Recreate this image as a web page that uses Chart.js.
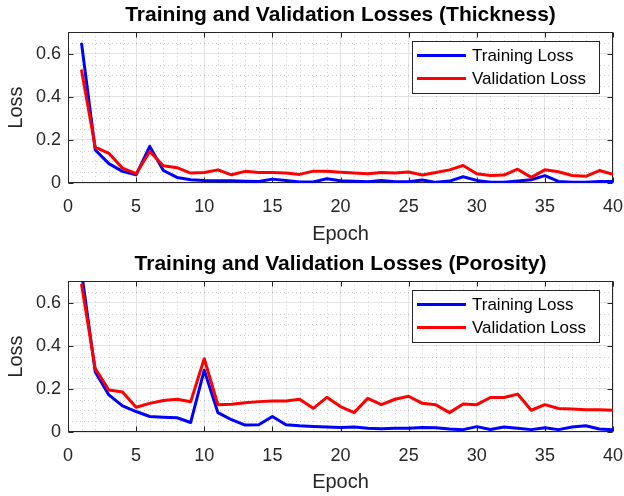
<!DOCTYPE html>
<html>
<head>
<meta charset="utf-8">
<script src="https://cdn.jsdelivr.net/npm/chart.js@4.4.1/dist/chart.umd.min.js"></script>
<style>
  html, body { margin: 0; padding: 0; background: #fff; }
  #wrap { position: relative; width: 624px; height: 496px; }
  #wrap canvas { position: absolute; left: 0; }
</style>
</head>
<body>
<div id="wrap">
  <canvas id="thickness" width="624" height="248" style="top:0"></canvas>
  <canvas id="porosity" width="624" height="247" style="top:249px"></canvas>
</div>
<script>
const epochs = [1, 2, 3, 4, 5, 6, 7, 8, 9, 10, 11, 12, 13, 14, 15, 16, 17, 18, 19, 20,
                21, 22, 23, 24, 25, 26, 27, 28, 29, 30, 31, 32, 33, 34, 35, 36, 37, 38, 39, 40];

const thicknessTrain = [0.645, 0.153, 0.090, 0.054, 0.038, 0.170, 0.058, 0.026, 0.015, 0.012,
                        0.011, 0.010, 0.008, 0.007, 0.018, 0.012, 0.005, 0.005, 0.020, 0.010,
                        0.008, 0.006, 0.012, 0.006, 0.006, 0.014, 0.003, 0.009, 0.029, 0.012,
                        0.003, 0.003, 0.009, 0.015, 0.034, 0.007, 0.004, 0.004, 0.007, 0.007];
const thicknessVal = [0.521, 0.166, 0.138, 0.069, 0.043, 0.146, 0.080, 0.071, 0.046, 0.049,
                      0.061, 0.038, 0.054, 0.049, 0.049, 0.046, 0.040, 0.055, 0.054, 0.050,
                      0.046, 0.043, 0.049, 0.046, 0.051, 0.037, 0.049, 0.061, 0.081, 0.043,
                      0.035, 0.037, 0.064, 0.026, 0.061, 0.052, 0.035, 0.031, 0.058, 0.040];

const porosityTrain = [0.740, 0.279, 0.172, 0.121, 0.095, 0.072, 0.069, 0.066, 0.044, 0.287,
                       0.090, 0.057, 0.032, 0.034, 0.072, 0.034, 0.029, 0.026, 0.023, 0.021,
                       0.023, 0.017, 0.015, 0.017, 0.017, 0.021, 0.020, 0.014, 0.011, 0.025,
                       0.012, 0.023, 0.017, 0.011, 0.020, 0.011, 0.023, 0.029, 0.014, 0.011];
const porosityVal = [0.682, 0.294, 0.195, 0.186, 0.115, 0.133, 0.146, 0.152, 0.140, 0.340,
                     0.127, 0.129, 0.136, 0.141, 0.144, 0.144, 0.152, 0.110, 0.161, 0.118,
                     0.090, 0.156, 0.127, 0.152, 0.166, 0.133, 0.126, 0.090, 0.130, 0.127,
                     0.160, 0.160, 0.176, 0.101, 0.127, 0.109, 0.107, 0.103, 0.103, 0.101];

const xTicks = [0, 5, 10, 15, 20, 25, 30, 35, 40];
const yTicks = [0, 0.2, 0.4, 0.6];
const seriesNames = ["Training Loss", "Validation Loss"];

Chart.defaults.font.family = '"Liberation Sans", Arial, Helvetica, sans-serif';
Chart.defaults.color = "#262626";

const AXIS = "#262626";

// minor dotted grid, box frame and inward tick marks (drawn under the lines)
const axesBox = {
    id: "axesBox",
    beforeDatasetsDraw(chart) {
        const { ctx, chartArea: a, scales: { x, y } } = chart;
        ctx.save();
        ctx.lineWidth = 1;
        ctx.strokeStyle = "rgba(0, 0, 0, 0.2)";
        ctx.setLineDash([1, 3]);
        for (let e = x.min + 1; e < x.max; e++) {
            if (e % 5 === 0) continue;
            const px = Math.round(x.getPixelForValue(e)) + 0.5;
            ctx.beginPath(); ctx.moveTo(px, a.top); ctx.lineTo(px, a.bottom); ctx.stroke();
        }
        for (let k = 1; k * 0.05 < y.max; k++) {
            if (k % 4 === 0) continue;
            const py = Math.round(y.getPixelForValue(k * 0.05)) + 0.5;
            ctx.beginPath(); ctx.moveTo(a.left, py); ctx.lineTo(a.right, py); ctx.stroke();
        }
        ctx.setLineDash([]);

        ctx.strokeStyle = AXIS;
        const L = Math.round(a.left) + 0.5, R = Math.round(a.right) - 0.5;
        const T = Math.round(a.top) + 0.5, B = Math.round(a.bottom) - 0.5;
        ctx.strokeRect(L, T, R - L, B - T);

        const tl = 5;
        ctx.beginPath();
        xTicks.forEach((v) => {
            const px = Math.round(x.getPixelForValue(v)) + 0.5;
            ctx.moveTo(px, B); ctx.lineTo(px, B - tl);
            ctx.moveTo(px, T); ctx.lineTo(px, T + tl);
        });
        yTicks.forEach((v) => {
            const py = Math.round(y.getPixelForValue(v)) + 0.5;
            ctx.moveTo(L, py); ctx.lineTo(L + tl, py);
            ctx.moveTo(R, py); ctx.lineTo(R - tl, py);
        });
        ctx.stroke();
        ctx.restore();
    },
};

// boxed legend in the upper right corner of the plot
const boxLegend = {
    id: "boxLegend",
    afterDraw(chart) {
        const { ctx, chartArea: a } = chart;
        const w = 187, h = 52;
        const left = Math.round(a.right - 14 - w), top = Math.round(a.top + 9);
        ctx.save();
        ctx.fillStyle = "#fff";
        ctx.fillRect(left, top, w, h);
        ctx.strokeStyle = AXIS;
        ctx.lineWidth = 1;
        ctx.strokeRect(left + 0.5, top + 0.5, w, h);
        ctx.font = '17px "Liberation Sans", Arial, sans-serif';
        ctx.textBaseline = "middle";
        ctx.textAlign = "left";
        chart.data.datasets.forEach((ds, i) => {
            const yy = top + 14.5 + i * 23;
            ctx.strokeStyle = ds.borderColor;
            ctx.lineWidth = 3;
            ctx.beginPath(); ctx.moveTo(left + 5, yy); ctx.lineTo(left + 54, yy); ctx.stroke();
            ctx.fillStyle = "#000";
            ctx.fillText(ds.label, left + 60, yy + 1);
        });
        ctx.restore();
    },
};

function toPoints(values) {
    return values.map((v, i) => ({ x: epochs[i], y: v }));
}

function makeLossChart(canvasId, titleText, train, val, xHeight) {
    return new Chart(document.getElementById(canvasId), {
        type: "line",
        data: {
            datasets: [
                {
                    label: seriesNames[0],
                    data: toPoints(train),
                    borderColor: "#0000ff",
                    order: 2,
                },
                {
                    label: seriesNames[1],
                    data: toPoints(val),
                    borderColor: "#ff0000",
                    order: 1,
                },
            ],
        },
        options: {
            responsive: false,
            animation: false,
            devicePixelRatio: 1,
            layout: { padding: 0 },
            elements: {
                line: { borderWidth: 3, tension: 0, borderJoinStyle: "round", borderCapStyle: "round" },
                point: { radius: 0 },
            },
            plugins: {
                legend: { display: false },
                tooltip: { enabled: false },
                title: {
                    display: true,
                    fullSize: false,
                    text: titleText,
                    color: "#000",
                    font: { size: 21, weight: "bold" },
                    padding: { top: 3, bottom: 4 },
                },
            },
            scales: {
                x: {
                    type: "linear",
                    min: 0,
                    max: 40,
                    afterBuildTicks: (s) => { s.ticks = xTicks.map((v) => ({ value: v })); },
                    afterFit: (s) => {
                        s.height = xHeight;
                        s.paddingLeft = 0;
                        s.paddingRight = 11;
                    },
                    ticks: { autoSkip: false, maxRotation: 0, padding: 13, color: AXIS, font: { size: 18 } },
                    grid: { color: "#e4e4e4", drawTicks: false },
                    border: { display: false },
                    title: {
                        display: true, text: "Epoch", color: AXIS,
                        font: { size: 20 }, padding: { top: 0, bottom: 2 },
                    },
                },
                y: {
                    min: 0,
                    max: 0.7,
                    afterBuildTicks: (s) => { s.ticks = yTicks.map((v) => ({ value: v })); },
                    afterFit: (s) => { s.width = 68; },
                    ticks: { padding: 7, color: AXIS, font: { size: 18 } },
                    grid: { color: "#e4e4e4", drawTicks: false },
                    border: { display: false },
                    title: {
                        display: true, text: "Loss", color: AXIS,
                        font: { size: 20 }, padding: { top: 4, bottom: 0 },
                    },
                },
            },
        },
        plugins: [axesBox, boxLegend],
    });
}

makeLossChart("thickness", "Training and Validation Losses (Thickness)", thicknessTrain, thicknessVal, 65);
makeLossChart("porosity", "Training and Validation Losses (Porosity)", porosityTrain, porosityVal, 64);
</script>
</body>
</html>
